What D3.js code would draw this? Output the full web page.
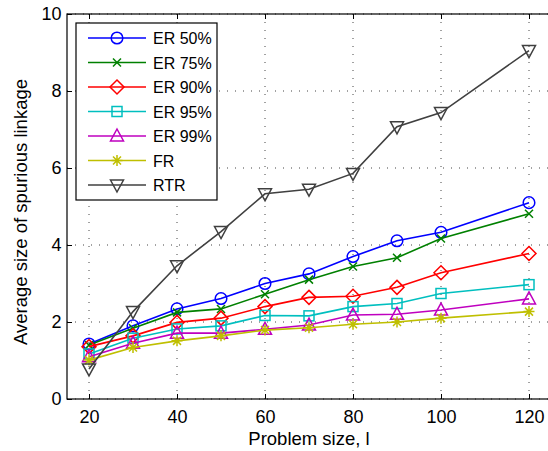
<!DOCTYPE html>
<html><head><meta charset="utf-8">
<script src="https://cdn.jsdelivr.net/npm/d3@7"></script>
<style>body{margin:0;background:#fff}svg{display:block}text{font-family:"Liberation Sans",Arial,sans-serif}</style>
</head><body><svg id="c" width="548" height="451"></svg>
<script>
const problemSizes = [20, 30, 40, 50, 60, 70, 80, 90, 100, 120];
const er50 = [1.43, 1.90, 2.34, 2.61, 3.00, 3.25, 3.70, 4.11, 4.33, 5.10];
const er75 = [1.40, 1.84, 2.25, 2.34, 2.72, 3.10, 3.44, 3.67, 4.17, 4.81];
const er90 = [1.36, 1.64, 1.99, 2.10, 2.40, 2.64, 2.67, 2.90, 3.28, 3.78];
const er95 = [1.17, 1.58, 1.82, 1.90, 2.17, 2.16, 2.40, 2.48, 2.74, 2.97];
const er99 = [1.10, 1.45, 1.71, 1.71, 1.81, 1.92, 2.18, 2.20, 2.31, 2.60];
const fr   = [1.01, 1.34, 1.51, 1.64, 1.79, 1.85, 1.94, 2.00, 2.10, 2.27];
const rtr  = [0.78, 2.27, 3.46, 4.35, 5.33, 5.45, 5.86, 7.07, 7.44, 9.05];
const seriesNames = ["ER 50%", "ER 75%", "ER 90%", "ER 95%", "ER 99%", "FR", "RTR"];
const xTicks = [20, 40, 60, 80, 100, 120];
const yTicks = [0, 2, 4, 6, 8, 10];
const xLabel = "Problem size, l";
const yLabel = "Average size of spurious linkage";

const seriesValues = [er50, er75, er90, er95, er99, fr, rtr];
const colors = ["#0000ff", "#008000", "#ff0000", "#00bfbf", "#bf00bf", "#bfbf00", "#404040"];
const markers = ["circle", "x", "diamond", "square", "triangle", "star", "tridown"];

const svg = d3.select("#c");
const L = 67, T = 14, R = 551, B = 399;
const x = d3.scaleLinear().domain([15, 125]).range([L, R]);
const y = d3.scaleLinear().domain([0, 10]).range([B, T]);

// grid
const grid = svg.append("g").attr("stroke", "#444").attr("stroke-width", 1).attr("stroke-dasharray", "1,7");
xTicks.forEach(t => grid.append("line").attr("x1", x(t)).attr("x2", x(t)).attr("y1", B).attr("y2", T));
yTicks.forEach(t => grid.append("line").attr("x1", L).attr("x2", R).attr("y1", y(t)).attr("y2", y(t)));

// axes
const xAxis = d3.axisBottom(x).tickValues(xTicks).tickSizeInner(-5).tickSizeOuter(0).tickPadding(11);
const yAxis = d3.axisLeft(y).tickValues(yTicks).tickSizeInner(-5).tickSizeOuter(0).tickPadding(5.5);
const gx = svg.append("g").attr("transform", `translate(0,${B})`).call(xAxis);
const gy = svg.append("g").attr("transform", `translate(${L},0)`).call(yAxis);
const gxt = svg.append("g").attr("transform", `translate(0,${T})`).call(d3.axisTop(x).tickValues(xTicks).tickSizeInner(-5).tickSizeOuter(0).tickFormat(""));
[gx, gy, gxt].forEach(g => {
  g.select(".domain").remove();
  g.selectAll("line").attr("stroke", "#000").attr("stroke-width", 1);
  g.selectAll("text").attr("font-size", 18).attr("fill", "#000").attr("font-family", '"Liberation Sans",Arial,sans-serif');
});
// frame
svg.append("rect").attr("x", L).attr("y", T).attr("width", R - L).attr("height", B - T)
  .attr("fill", "none").attr("stroke", "#000").attr("stroke-width", 1.2);

svg.append("text").attr("x", (L + R) / 2).attr("y", 445).attr("text-anchor", "middle")
  .attr("font-size", 18.5).text(xLabel);
svg.append("text").attr("transform", `translate(27,212) rotate(-90)`).attr("text-anchor", "middle")
  .attr("font-size", 18.5).text(yLabel);

function drawMarker(g, type, cx, cy, color) {
  const s = g.append("g").attr("transform", `translate(${cx},${cy})`)
    .attr("fill", "none").attr("stroke", color).attr("stroke-width", 1.5);
  if (type === "circle") s.append("circle").attr("r", 5.8);
  else if (type === "x") s.append("path").attr("d", "M-4,-4L4,4M-4,4L4,-4");
  else if (type === "diamond") s.append("path").attr("d", "M0,-7L7,0L0,7L-7,0Z");
  else if (type === "square") s.append("rect").attr("x", -5).attr("y", -5).attr("width", 10).attr("height", 10);
  else if (type === "triangle") s.append("path").attr("d", "M0,-7L6.5,5L-6.5,5Z");
  else if (type === "tridown") s.append("path").attr("d", "M0,7L6.5,-5L-6.5,-5Z");
  else if (type === "star") s.append("path").attr("d", "M0,-5.5L0,5.5M-5.5,0L5.5,0M-4,-4L4,4M-4,4L4,-4");
}

const line = d3.line().x((d, i) => x(problemSizes[i])).y(d => y(d));
seriesValues.forEach((vals, k) => {
  const g = svg.append("g");
  g.append("path").datum(vals).attr("d", line).attr("fill", "none")
    .attr("stroke", colors[k]).attr("stroke-width", 1.6);
  vals.forEach((v, i) => drawMarker(g, markers[k], x(problemSizes[i]), y(v), colors[k]));
});

// legend
const lg = svg.append("g");
lg.append("rect").attr("x", 76).attr("y", 23).attr("width", 141).attr("height", 177)
  .attr("fill", "#fff").attr("stroke", "#000").attr("stroke-width", 1.2);
seriesNames.forEach((n, k) => {
  const yy = 38 + k * 24.5;
  lg.append("line").attr("x1", 88).attr("x2", 146).attr("y1", yy).attr("y2", yy)
    .attr("stroke", colors[k]).attr("stroke-width", 1.6);
  drawMarker(lg, markers[k], 117, yy, colors[k]);
  lg.append("text").attr("x", 153).attr("y", yy + 6).attr("font-size", 16).text(n);
});
</script></body></html>
